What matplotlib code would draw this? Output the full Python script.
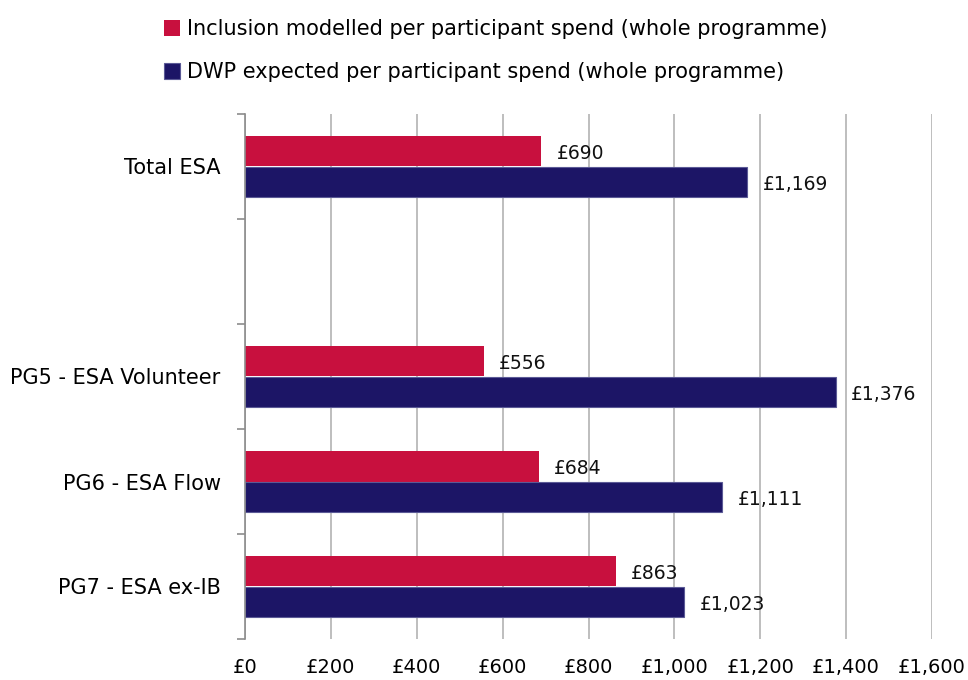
import matplotlib
matplotlib.use("Agg")
import matplotlib.pyplot as plt
import numpy as np

categories = ["Total ESA", "", "PG5 - ESA Volunteer", "PG6 - ESA Flow", "PG7 - ESA ex-IB"]
inclusion = [690, None, 556, 684, 863]
dwp = [1169, None, 1376, 1111, 1023]
series_names = ["Inclusion modelled per participant spend (whole programme)",
                "DWP expected per participant spend (whole programme)"]
xticks = [0, 200, 400, 600, 800, 1000, 1200, 1400, 1600]
xtick_labels = ["£0", "£200", "£400", "£600", "£800", "£1,000", "£1,200", "£1,400", "£1,600"]

RED = "#C8103E"
NAVY = "#1C1566"
GRID = "#B3B3B3"

plt.rcParams["font.family"] = ["DejaVu Sans"]

fig = plt.figure(figsize=(9.68, 6.8), dpi=100)
ax = fig.add_axes([245/968, 1-639/680, (932-245)/968, (639-114)/680])

y = np.arange(len(categories))
h = 0.29
off = 36
for i in range(len(categories)):
    if inclusion[i] is not None:
        ax.barh(y[i] - h/2, inclusion[i], height=h, color=RED, zorder=3,
                label=series_names[0] if i == 0 else None)
        ax.text(inclusion[i] + off, y[i] - h/2 + 0.02, f"£{inclusion[i]:,}", va="center", ha="left",
                fontsize=13.5, color="#111111", zorder=4)
    if dwp[i] is not None:
        ax.barh(y[i] + h/2, dwp[i], height=h, color=NAVY, edgecolor="#5B5A96", linewidth=0.8,
                zorder=3, label=series_names[1] if i == 0 else None)
        ax.text(dwp[i] + off, y[i] + h/2 + 0.03, f"£{dwp[i]:,}", va="center", ha="left",
                fontsize=13.5, color="#111111", zorder=4)

ax.set_xlim(0, 1600)
ax.set_ylim(len(categories) - 0.5, -0.5)
ax.set_xticks(xticks)
ax.set_xticklabels(xtick_labels, fontsize=14)
ax.tick_params(axis="x", length=0, pad=14)
ax.set_yticks(y)
ax.set_yticklabels(categories, fontsize=15)
ax.tick_params(axis="y", which="major", length=0, pad=17.5)
ax.set_yticks(np.arange(-0.5, len(categories), 1.0), minor=True)
ax.tick_params(axis="y", which="minor", length=6, width=1.2, color="#8C8C8C", direction="out")

ax.grid(axis="x", color=GRID, linewidth=1.2, zorder=0)
for s in ["top", "right", "bottom"]:
    ax.spines[s].set_visible(False)
ax.spines["left"].set_color("#8C8C8C")
ax.spines["left"].set_linewidth(1.2)
ax.spines["left"].set_zorder(5)

fig.legend(loc="upper left", bbox_to_anchor=(156/968, 1-11/680), frameon=False,
           prop={"size": 15}, handlelength=0.75, handleheight=0.75,
           handletextpad=0.35, labelspacing=1.1, borderaxespad=0)

fig.savefig("out.png", dpi=100)
